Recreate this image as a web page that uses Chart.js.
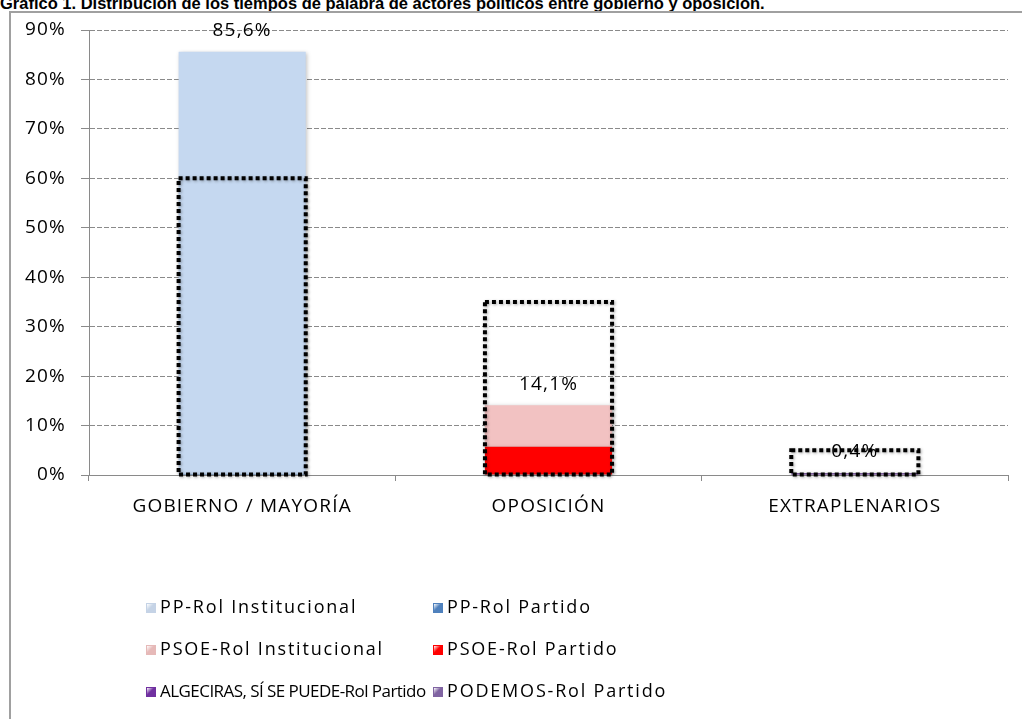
<!DOCTYPE html>
<html>
<head>
<meta charset="utf-8">
<script src="https://cdn.jsdelivr.net/npm/chart.js@4/dist/chart.umd.min.js"></script>
<style>
  html, body { margin: 0; padding: 0; background: #fff; }
  body { width: 1022px; height: 719px; position: relative; overflow: hidden; }
  #title { position: absolute; left: 0; top: -6px; font: bold 16.5px "Liberation Sans", Arial, sans-serif; color: #000; white-space: nowrap; }
  #frame { position: absolute; left: 9px; top: 11px; width: 1030px; height: 720px; border: 2px solid #a0a0a0; box-sizing: border-box; }
  #chart { position: absolute; left: 0; top: 0; }
  .leg { position: absolute; font: 18px "Open Sans", sans-serif; color: #000; white-space: nowrap; line-height: 22px; }
  .leg i { display: inline-block; width: 10px; height: 10px; margin-right: 4px; vertical-align: 0px; box-sizing: border-box; }
</style>
</head>
<body>
<div id="title">Gráfico 1. Distribución de los tiempos de palabra de actores políticos entre gobierno y oposición.</div>
<div id="frame"></div>
<canvas id="chart" width="1022" height="719"></canvas>
<div id="legend"></div>
<script>
const categories = ['GOBIERNO / MAYORÍA', 'OPOSICIÓN', 'EXTRAPLENARIOS'];
const ppInstitucional = [85.4, 0, 0];
const ppPartido = [0.2, 0, 0];
const psoeInstitucional = [0, 8.4, 0];
const psoePartido = [0, 5.7, 0];
const algecirasPartido = [0, 0, 0.2];
const podemosPartido = [0, 0, 0.2];
const referencia = [60, 35, 5];
const totalLabels = ['85,6%', '14,1%', '0,4%'];
const yTicks = [0, 10, 20, 30, 40, 50, 60, 70, 80, 90];

// order of the legend (2 columns)
const series = [
    { label: 'PP-Rol Institucional', data: ppInstitucional, color: '#c5d8f0', icon: '#c5d3e6' },
    { label: 'PP-Rol Partido', data: ppPartido, color: '#4f81bd', icon: '#4f81bd' },
    { label: 'PSOE-Rol Institucional', data: psoeInstitucional, color: '#f2c2c2', icon: '#e6b9b8' },
    { label: 'PSOE-Rol Partido', data: psoePartido, color: '#ff0000', icon: '#ff0000' },
    { label: 'ALGECIRAS, SÍ SE PUEDE-Rol Partido', data: algecirasPartido, color: '#7030a0', icon: '#7030a0' },
    { label: 'PODEMOS-Rol Partido', data: podemosPartido, color: '#8064a2', icon: '#8064a2' }
];
// partido at the bottom of each stack
const stackOrder = [1, 0, 3, 2, 4, 5];
// the long all-caps label has to stay clear of the second column
const legendSpacing = [1.8, 1.8, 1.8, 1.8, -0.55, 1.8];
const legendSize = [18, 18, 18, 18, 17, 18];

const gridColor = '#8a8a8a';
const font19 = { family: 'Open Sans', size: 19 };

const datasets = stackOrder.map(i => ({
    label: series[i].label,
    data: series[i].data,
    backgroundColor: series[i].color,
    borderWidth: 0,
    stack: 'main',
    categoryPercentage: 0.83,
    barPercentage: 0.5
}));
datasets.push({
    label: 'referencia',
    data: referencia,
    backgroundColor: 'rgba(0,0,0,0)',
    borderWidth: 0,
    stack: 'ref',
    grouped: false,
    categoryPercentage: 0.83,
    barPercentage: 0.5
});

const spacingPlugin = {
    id: 'spacing',
    beforeDraw(chart) { chart.ctx.letterSpacing = '1.2px'; }
};

// soft shadow under the bars
const shadowPlugin = {
    id: 'shadow',
    beforeDatasetsDraw(chart) {
        const ctx = chart.ctx;
        ctx.save();
        ctx.shadowColor = 'rgba(0,0,0,0.25)';
        ctx.shadowBlur = 4;
        ctx.shadowOffsetX = 1;
        ctx.shadowOffsetY = 1;
    },
    afterDatasetsDraw(chart) { chart.ctx.restore(); }
};

const outlinePlugin = {
    id: 'outline',
    afterDatasetsDraw(chart) {
        const ctx = chart.ctx;
        const meta = chart.getDatasetMeta(chart.data.datasets.length - 1);
        ctx.save();
        meta.data.forEach(bar => {
            const left = bar.x - bar.width / 2;
            ctx.shadowColor = 'rgba(0,0,0,0.35)';
            ctx.shadowBlur = 3;
            ctx.shadowOffsetX = 1;
            ctx.shadowOffsetY = 1;
            ctx.strokeStyle = '#000';
            ctx.lineWidth = 4;
            ctx.setLineDash([4, 3]);
            ctx.strokeRect(left, bar.y, bar.width, bar.base - bar.y);
        });
        ctx.restore();

        // total labels above the stacks
        const y = chart.scales.y;
        ctx.save();
        ctx.font = '19px "Open Sans"';
        ctx.letterSpacing = '1.2px';
        ctx.fillStyle = '#000';
        ctx.textAlign = 'center';
        ctx.textBaseline = 'middle';
        const stackMeta = chart.getDatasetMeta(0);
        categories.forEach((c, k) => {
            let total = 0;
            series.forEach(s => { total += s.data[k]; });
            ctx.fillText(totalLabels[k], stackMeta.data[k].x, y.getPixelForValue(total) - 21);
        });
        ctx.restore();
    }
};

new Chart(document.getElementById('chart'), {
    type: 'bar',
    data: { labels: categories, datasets: datasets },
    options: {
        responsive: false,
        animation: false,
        layout: { padding: { left: 0, right: 14, top: 30, bottom: 184 } },
        plugins: { legend: { display: false }, tooltip: { enabled: false } },
        scales: {
            x: {
                stacked: true,
                offset: true,
                afterFit(scale) { scale.height = 60; },
                grid: { display: true, drawOnChartArea: false, drawTicks: true, tickLength: 6, tickColor: gridColor, offset: true },
                border: { color: gridColor, width: 1 },
                ticks: { color: '#000', font: font19, padding: 14, maxRotation: 0 }
            },
            y: {
                stacked: true,
                min: 0,
                max: 90,
                afterFit(scale) { scale.width = 89; },
                afterBuildTicks(scale) { scale.ticks = yTicks.map(v => ({ value: v })); },
                grid: { color: gridColor, lineWidth: 1, tickLength: 8, tickColor: gridColor, tickBorderDash: [] },
                border: { color: gridColor, width: 1, dash: [5, 2] },
                ticks: { color: '#000', font: font19, padding: 15, callback: v => v + '%' }
            }
        }
    },
    plugins: [spacingPlugin, shadowPlugin, outlinePlugin]
});

// legend, 2 columns x 3 rows
const legend = document.getElementById('legend');
const colX = [146, 433];
const rowY = [595, 637, 679];
series.forEach((s, i) => {
    const d = document.createElement('div');
    d.className = 'leg';
    d.style.left = colX[i % 2] + 'px';
    d.style.top = rowY[Math.floor(i / 2)] + 'px';
    const icon = document.createElement('i');
    icon.style.background = 'linear-gradient(135deg, #ffffff55, ' + s.icon + ' 45%, ' + s.icon + ')';
    icon.style.border = '1px solid ' + s.icon;
    d.appendChild(icon);
    const t = document.createElement('span');
    t.style.letterSpacing = legendSpacing[i] + 'px';
    t.style.fontSize = legendSize[i] + 'px';
    t.textContent = s.label;
    d.appendChild(t);
    legend.appendChild(d);
});
</script>
</body>
</html>
